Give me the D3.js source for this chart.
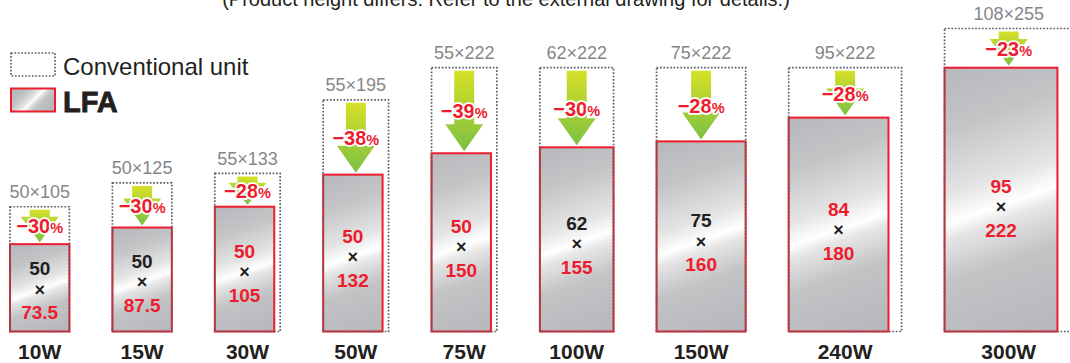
<!DOCTYPE html>
<html><head><meta charset="utf-8">
<script src="https://cdn.jsdelivr.net/npm/d3@7"></script>
<style>body{margin:0;background:#fff}svg{display:block;font-family:"Liberation Sans",Arial,Helvetica,sans-serif}</style>
</head><body><svg id="c" width="1070" height="363"></svg>
<script>
const categories = ["10W","15W","30W","50W","75W","100W","150W","240W","300W"];
const convWidth  = [50, 50, 55, 55, 55, 62, 75, 95, 108];
const convHeight = [105, 125, 133, 195, 222, 222, 222, 222, 255];
const lfaWidth   = [50, 50, 50, 50, 50, 62, 75, 84, 95];
const lfaHeight  = [73.5, 87.5, 105, 132, 150, 155, 160, 180, 222];
const reduction  = [30, 30, 28, 38, 39, 30, 28, 28, 23];
const legendLabels = ["Conventional unit", "LFA"];
const noteText = "(Product height differs. Refer to the external drawing for details.)";

const RED = "#ed1c2e", DARK = "#231f20", GREY = "#85868a", DOT = "#5f6063";
const svg = d3.select("#c");
const defs = svg.append("defs");
const mm = d3.scaleLinear().domain([0, 255]).range([0, 303]);
const baseY = 331.5, startX = 10, gap = 43;
const xs = [];
let acc = startX;
convWidth.forEach(w => { xs.push(acc); acc += mm(w) + gap; });

const ag = defs.append("linearGradient").attr("id","arrowG")
  .attr("x1",0).attr("y1",0).attr("x2",0).attr("y2",1);
ag.append("stop").attr("offset",0).attr("stop-color","#d6e027");
ag.append("stop").attr("offset",1).attr("stop-color","#7cc043");

const silverStops = [[0,"#b8b9bc"],[0.2,"#c3c4c6"],[0.42,"#e4e4e5"],[0.52,"#ffffff"],[0.57,"#e6e6e7"],[0.72,"#c2c3c5"],[1,"#b7b8bb"]];
function silver(id, x0, y0, w, h, slope) {
  const cx = x0 + w / 2;
  const g = defs.append("linearGradient").attr("id", id).attr("gradientUnits","userSpaceOnUse")
    .attr("x1", cx - slope * h / 2).attr("y1", y0).attr("x2", cx + slope * h / 2).attr("y2", y0 + h);
  silverStops.forEach(s => g.append("stop").attr("offset", s[0]).attr("stop-color", s[1]));
  return "url(#" + id + ")";
}

// note at top (cropped like the reference)
svg.append("text").attr("x", 506).attr("y", 6).attr("text-anchor","middle")
  .attr("font-size", 20).attr("fill", DARK).text(noteText);

// legend
svg.append("rect").attr("x", 11).attr("y", 53).attr("width", 44).attr("height", 23)
  .attr("fill","none").attr("stroke",DOT).attr("stroke-width",1.7).attr("stroke-dasharray","1.7,1.7");
svg.append("text").attr("x", 63).attr("y", 74.5).attr("font-size", 24).attr("fill", DARK).text(legendLabels[0]);
svg.append("rect").attr("x", 11).attr("y", 88.5).attr("width", 44).attr("height", 23)
  .attr("fill", silver("lg", 11, 88.5, 44, 23, 1.0)).attr("stroke", RED).attr("stroke-width", 2);
svg.append("text").attr("x", 63).attr("y", 111.5).attr("font-size", 29).attr("font-weight","bold")
  .attr("fill", DARK).attr("stroke", DARK).attr("stroke-width", 0.8).text(legendLabels[1]);

categories.forEach((cat, i) => {
  const g = svg.append("g");
  const x0 = xs[i];
  const cw = mm(convWidth[i]), ch = mm(convHeight[i]);
  const lw = mm(lfaWidth[i]), lh = mm(lfaHeight[i]);
  const cTop = baseY - ch, lTop = baseY - lh;
  const ccx = x0 + cw / 2, lcx = x0 + lw / 2;

  g.append("rect").attr("x", x0).attr("y", lTop).attr("width", lw).attr("height", lh)
    .attr("fill", silver("s" + i, x0, lTop, lw, lh, 0.35)).attr("stroke", RED).attr("stroke-width", 2);
  g.append("rect").attr("x", x0).attr("y", cTop).attr("width", cw).attr("height", ch)
    .attr("fill","none").attr("stroke",DOT).attr("stroke-width",1.7).attr("stroke-dasharray","1.7,1.7");

  g.append("text").attr("x", ccx).attr("y", cTop - 8.5).attr("text-anchor","middle")
    .attr("font-size", 18).attr("fill", GREY).text(convWidth[i] + "×" + convHeight[i]);

  // arrow
  const top = cTop + 3, tip = lTop - 2, len = tip - top;
  const headH = Math.min(27, len * 0.78), sw = 10, hw = 19;
  const p = d3.path();
  p.moveTo(ccx - sw, top); p.lineTo(ccx + sw, top); p.lineTo(ccx + sw, tip - headH);
  p.lineTo(ccx + hw, tip - headH); p.lineTo(ccx, tip); p.lineTo(ccx - hw, tip - headH);
  p.lineTo(ccx - sw, tip - headH); p.closePath();
  g.append("path").attr("d", p.toString()).attr("fill","url(#arrowG)");

  const pt = g.append("text").attr("x", ccx).attr("y", (cTop + lTop) / 2 + 8)
    .attr("text-anchor","middle").attr("font-weight","bold").attr("fill", RED)
    .attr("stroke","#fff").attr("stroke-width",3.5).attr("stroke-linejoin","round").attr("paint-order","stroke");
  pt.append("tspan").attr("font-size", 20).text("−" + reduction[i]);
  pt.append("tspan").attr("font-size", 14.5).text("%");

  const crossY = lTop + 0.53 * lh;
  g.append("text").attr("x", lcx).attr("y", crossY - 15).attr("text-anchor","middle")
    .attr("font-size", 19).attr("font-weight","bold")
    .attr("fill", lfaWidth[i] !== convWidth[i] ? RED : DARK).text(lfaWidth[i]);
  g.append("text").attr("x", lcx).attr("y", crossY + 5.5).attr("text-anchor","middle")
    .attr("font-size", 18).attr("font-weight","bold").attr("fill", DARK).text("×");
  g.append("text").attr("x", lcx).attr("y", crossY + 29).attr("text-anchor","middle")
    .attr("font-size", 19).attr("font-weight","bold")
    .attr("fill", lfaHeight[i] !== convHeight[i] ? RED : DARK).text(lfaHeight[i]);

  g.append("text").attr("x", ccx).attr("y", 358.5).attr("text-anchor","middle")
    .attr("font-size", 21).attr("font-weight","bold").attr("fill", DARK).text(cat);
});
</script></body></html>
